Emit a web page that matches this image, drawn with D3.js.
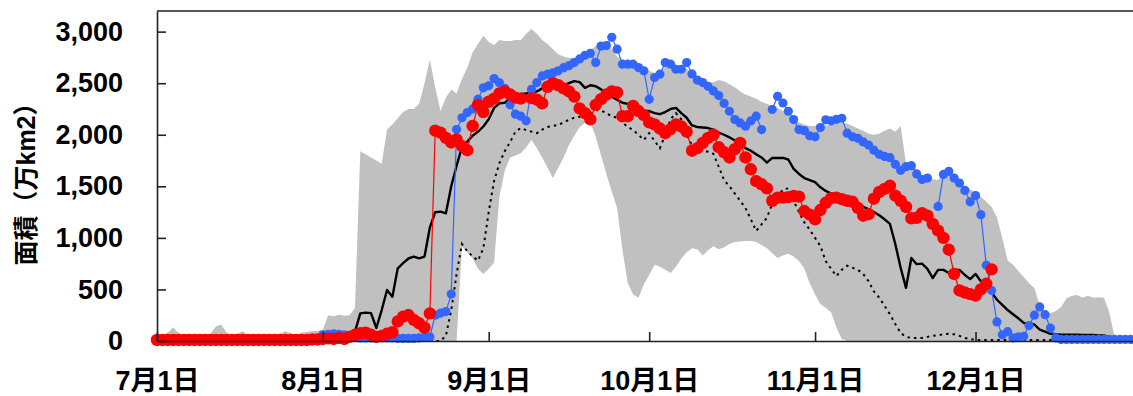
<!DOCTYPE html>
<html>
<head>
<meta charset="utf-8">
<script src="https://cdn.jsdelivr.net/npm/d3@7"></script>
<style>
  body { margin: 0; background: #fff; }
  text { font-family: "Liberation Sans", "Noto Sans CJK JP", sans-serif; font-weight: bold; fill: #000; }
</style>
</head>
<body>
<svg id="chart" width="1133" height="396"></svg>
<script>
// daily values from 7/1, unit: 万km2
const startDate = Date.UTC(2021, 6, 1);

const currentYear = [
  10,10,10,10,10,10,10,10,10,10,
  10,10,10,10,10,10,10,10,10,10,
  10,10,10,10,10,10,10,10,10,15,
  15,20,25,20,30,20,40,60,75,80,
  60,40,50,70,85,190,236,252,204,172,
  130,268,2040,2020,1970,1925,1955,1890,1850,2085,
  2290,2220,2320,2350,2400,2420,2390,2360,2350,null,
  2355,2340,2305,2465,2500,2480,2450,2420,2370,2255,
  2210,2150,2290,2345,2390,2420,2410,2180,2180,2280,
  2230,2190,2120,2100,2060,2015,2055,2100,2080,2030,
  1845,1870,1920,1970,2000,1880,1830,1780,1860,1920,
  1780,1665,1550,1520,1480,1360,1390,1390,1395,1406,
  1400,1260,1225,1180,1270,1340,1385,1390,1375,1360,
  1350,1290,1215,1230,1380,1445,1475,1505,1410,1360,
  1300,1190,1195,1240,1215,1135,1070,1000,885,650,
  490,470,455,440,500,555,695
];

const lastYear = [
  5,5,5,5,5,5,5,5,5,5,
  5,5,5,5,5,5,5,5,5,5,
  5,5,5,5,5,5,5,10,10,10,
  20,60,65,70,65,60,55,40,30,30,
  30,30,30,30,30,25,25,25,25,30,
  35,40,250,270,285,455,2050,2165,2215,2250,
  2345,2455,2475,2545,2505,2450,2290,2200,2180,2135,
  2440,2506,2570,2587,2600,2620,2650,2670,2700,2735,
  2770,2790,2700,2860,2865,2945,2830,2684,2684,2684,
  2651,2620,2344,2555,2587,2700,2684,2635,2635,2700,
  2590,2530,2506,2470,2425,2380,2305,2228,2147,2115,
  2083,2134,2180,2050,null,2245,2373,2308,2228,2147,
  2050,2040,1990,1980,2070,2145,2135,2150,2160,2015,
  1980,1965,1930,1900,1850,1810,1790,1778,1713,1655,
  1690,1700,1620,1565,1580,null,1305,1615,1645,1580,
  1532,1460,1350,1410,1225,735,490,185,60,90,
  30,40,45,150,250,330,255,125,30,15,
  15,15,15,15,15,15,15,15,15,15,
  15,15,15,15
];

const meanArea = [
  10,10,10,10,15,15,10,10,10,15,
  20,25,25,15,10,10,15,10,10,10,
  10,10,10,15,20,15,10,15,20,25,
  30,40,50,50,45,50,60,90,268,275,
  270,126,300,495,430,705,755,800,818,802,
  818,1100,1250,1254,1238,1500,1700,1880,1933,1990,
  2030,2080,2150,2260,2305,2310,2350,2390,2395,2400,
  2410,2420,2450,2460,2460,2465,2480,2500,2520,2510,
  2455,2480,2470,2440,2400,2370,2340,2310,2300,2280,
  2250,2230,2230,2210,2200,2220,2250,2260,2210,2165,
  2090,2075,2070,2065,2050,2020,2000,1975,1945,1905,
  1870,1845,1810,1780,1730,1775,1775,1775,1760,1670,
  1620,1580,1560,1540,1490,1455,1430,1420,1400,1390,
  1370,1340,1300,1280,1250,1220,1180,1135,940,710,
  515,805,745,750,700,610,690,690,660,690,
  690,640,600,650,580,520,470,400,350,300,
  260,220,175,170,160,110,90,70,65,60,
  60,60,60,58,58,58,55,55,30
];

const refYear = [
  0,0,0,0,0,0,0,0,0,0,
  0,0,0,0,0,0,0,0,0,0,
  0,0,0,0,0,0,0,0,0,0,
  0,0,0,0,0,0,0,0,0,0,
  0,0,0,0,0,0,0,0,0,0,
  0,0,0,0,50,300,650,940,870,820,
  780,900,1250,1550,1725,1840,1930,2030,2065,2045,
  2030,2015,2050,2075,2085,2095,2120,2145,2165,2175,
  2185,2200,2240,2235,2210,2180,2165,2120,2075,2045,
  2000,1950,2015,1940,1870,2000,2150,2210,2150,2000,
  1900,1860,1850,1835,1815,1690,1560,1500,1430,1360,
  1290,1180,1067,1130,1195,1330,1400,1470,1480,1360,
  1250,1150,1080,1000,920,775,700,630,690,730,
  710,690,650,580,480,420,340,260,165,78,
  40,30,30,30,40,50,55,65,70,65,
  50,30,20,10,10,10,10,10,10,10,
  10,10,10,10,10,10,10,10,10,10,
  10,10,10,10,10,10,10,10,10
];

const rangeMax = [
  60,60,80,130,80,60,60,55,60,60,
  70,140,160,80,60,70,95,60,60,65,
  60,60,60,70,95,75,60,80,90,95,
  100,110,250,240,255,245,250,320,1840,1810,
  1780,1750,1720,2050,2100,2160,2220,2250,2250,2300,
  2500,2730,2460,2230,2360,2440,2400,2540,2650,2800,
  2880,2960,2900,2870,2920,2910,2910,2920,2920,2980,
  3025,2980,2920,2880,2830,2780,2760,2745,2745,2730,
  2780,2820,2860,2880,2870,2830,2760,2720,2700,2680,
  2660,2640,2620,2600,2610,2660,2690,2680,2660,2640,
  2600,2560,2530,2500,2510,2530,2520,2490,2460,2420,
  2390,2370,2350,2320,2300,2280,2260,2230,2200,2150,
  2120,2100,2085,2085,2085,2090,2100,2115,2115,2110,
  2085,2060,2040,2010,2000,2010,2040,2060,2030,2085,
  1720,1710,1660,1600,1600,1570,1560,1640,1660,1610,
  1560,1500,1470,1440,1400,1350,1300,1200,1000,780,
  740,680,620,560,515,340,290,270,290,330,
  415,440,446,420,440,420,425,420,280,40,
  0,0,0,0
];

const rangeMin = [
  0,0,0,0,0,0,0,0,0,0,
  0,0,0,0,0,0,0,0,0,0,
  0,0,0,0,0,0,0,0,0,0,
  0,0,0,0,0,0,0,0,0,0,
  0,0,0,0,0,0,0,0,0,0,
  0,0,0,0,0,0,0,920,860,800,
  700,650,700,760,1400,1650,1780,1800,1820,1880,
  1950,1870,1780,1680,1580,1680,1780,1900,1990,2075,
  2115,2120,1980,1800,1620,1450,1290,880,560,450,
  420,550,640,740,720,690,660,720,800,860,
  900,890,830,880,920,890,910,940,960,965,
  970,970,960,930,900,850,805,830,845,820,
  775,700,560,450,360,320,280,130,20,0,
  0,0,0,0,0,0,0,0,0,0,
  0,0,0,0,0,0,0,0,0,0,
  0,0,0,0,0,0,0,0,0,0,
  0,0,0,0,0,0,0,0,0,0,
  0,0,0,0,0,0,0,0,0,0,
  0,0,0,0
];

const yTicks = [0, 500, 1000, 1500, 2000, 2500, 3000];
const tickDates = [Date.UTC(2021,6,1), Date.UTC(2021,7,1), Date.UTC(2021,8,1),
                   Date.UTC(2021,9,1), Date.UTC(2021,10,1), Date.UTC(2021,11,1)];
const tickLabels = ["7月1日", "8月1日", "9月1日", "10月1日", "11月1日", "12月1日"];
const yTitle = "面積（万km2）";

const day = i => new Date(startDate + i * 864e5);

const svg = d3.select('#chart');
const plotLeft = 157, plotTop = 11, plotBottom = 341;

let x = d3.scaleUtc()
    .domain([new Date(startDate), new Date(Date.UTC(2022, 0, 1))])
    .range([plotLeft, plotLeft + 184 * 5.35]);
let y = d3.scaleLinear().domain([0, 3200]).range([plotBottom, plotTop]);

// grey range band
let band = rangeMax.map((v, i) => ({d: day(i), hi: v, lo: rangeMin[i]}));
svg.append('path')
    .datum(band)
    .attr('fill', '#c0c0c0')
    .attr('d', d3.area().x(d => x(d.d)).y0(d => y(d.lo)).y1(d => y(d.hi)));

// dotted reference year
svg.append('path')
    .datum(refYear.map((v, i) => ({d: day(i), v: v})))
    .attr('fill', 'none')
    .attr('stroke', '#000')
    .attr('stroke-width', 2)
    .attr('stroke-dasharray', '2.5,4')
    .attr('d', d3.line().x(d => x(d.d)).y(d => y(d.v)));

// mean
svg.append('path')
    .datum(meanArea.map((v, i) => ({d: day(i), v: v})))
    .attr('fill', 'none')
    .attr('stroke', '#000')
    .attr('stroke-width', 2.4)
    .attr('stroke-linejoin', 'round')
    .attr('d', d3.line().x(d => x(d.d)).y(d => y(d.v)));

function dotSeries(values, color, r) {
    let pts = values.map((v, i) => ({d: day(i), v: v}));
    svg.append('path')
        .datum(pts)
        .attr('fill', 'none')
        .attr('stroke', color)
        .attr('stroke-width', 1.2)
        .attr('d', d3.line().defined(d => d.v != null).x(d => x(d.d)).y(d => y(d.v)));
    svg.append('g')
        .selectAll('circle')
        .data(pts.filter(d => d.v != null))
        .enter()
        .append('circle')
        .attr('cx', d => x(d.d))
        .attr('cy', d => y(d.v))
        .attr('r', r)
        .attr('fill', color);
}
dotSeries(lastYear, '#3366ff', 4.6);
dotSeries(currentYear, '#ff0000', 6.2);

// frame top line
svg.append('line')
    .attr('x1', x.range()[0]).attr('x2', x.range()[1])
    .attr('y1', y.range()[1]).attr('y2', y.range()[1])
    .attr('stroke', '#222').attr('stroke-width', 1.6);

let gy = svg.append('g')
    .attr('transform', `translate(${plotLeft},0)`)
    .call(d3.axisLeft(y).tickValues(yTicks).tickFormat(d3.format(','))
        .tickSizeInner(-9).tickSizeOuter(0).tickPadding(34));

let gx = svg.append('g')
    .attr('transform', `translate(0,${plotBottom})`)
    .call(d3.axisBottom(x).tickValues(tickDates.map(t => new Date(t)))
        .tickFormat((d, i) => tickLabels[i])
        .tickSizeInner(-9).tickSizeOuter(0).tickPadding(30));

[gx, gy].forEach(g => {
    g.selectAll('path, line').attr('stroke', '#222').attr('stroke-width', 1.6);
    g.selectAll('text').style('font-size', '27px').attr('fill', '#000');
    g.attr('font-family', null).attr('font-size', null);
});

svg.append('text')
    .attr('transform', 'translate(26,178) rotate(-90)')
    .attr('text-anchor', 'middle')
    .attr('dominant-baseline', 'central')
    .style('font-size', '25px')
    .text(yTitle);
</script>
</body>
</html>
